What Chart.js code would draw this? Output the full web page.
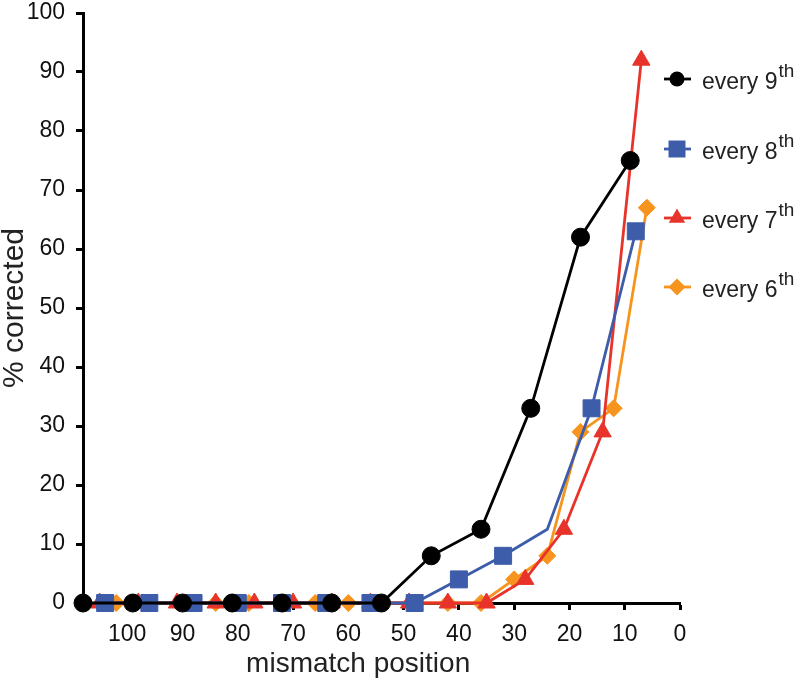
<!DOCTYPE html>
<html>
<head>
<meta charset="utf-8">
<script src="https://cdn.jsdelivr.net/npm/chart.js@4/dist/chart.umd.min.js"></script>
<style>
  html, body { margin: 0; padding: 0; background: #fff; }
  #main { display: block; }
</style>
</head>
<body>
<canvas id="main" width="800" height="680"></canvas>
<script>
// mismatch positions and % corrected, one pair of arrays per series
const pos9 = [108, 99, 90, 81, 72, 63, 54, 45, 36, 27, 18, 9];
const val9 = [0, 0, 0, 0, 0, 0, 0, 8, 12.5, 33, 62, 75];

const pos8 = [104, 96, 88, 80, 72, 64, 56, 48, 40, 32, 24, 16, 8];
const val8 = [0, 0, 0, 0, 0, 0, 0, 0, 4, 8, 12.5, 33, 63];

const pos7 = [105, 98, 91, 84, 77, 70, 63, 56, 49, 42, 35, 28, 21, 14, 7];
const val7 = [0, 0, 0, 0, 0, 0, 0, 0, 0, 0, 0, 4, 12.5, 29, 92];

const pos6 = [102, 96, 90, 84, 78, 72, 66, 60, 54, 48, 42, 36, 30, 24, 18, 12, 6];
const val6 = [0, 0, 0, 0, 0, 0, 0, 0, 0, 0, 0, 0, 4, 8, 29, 33, 67];

const seriesNames = ['every 9', 'every 8', 'every 7', 'every 6'];
const xTicks = [0, 10, 20, 30, 40, 50, 60, 70, 80, 90, 100];

const FONT = "'Liberation Sans', Arial, Helvetica, sans-serif";

const toPoints = (xs, ys) => xs.map((x, i) => ({ x: x, y: ys[i] }));

const styles = [
  { color: '#000000', shape: 'circle', r: 9, lr: 7.5 },
  { color: '#3d5daa', shape: 'rect', r: 12, lr: 12 },
  { color: '#e8332a', shape: 'triangle', r: 10, lr: 9.5 },
  { color: '#f7941d', shape: 'rectRot', r: 8.5, lr: 8.5 },
];

const makeSet = (i, xs, ys, radii) => ({
  label: seriesNames[i] + 'th',
  data: toPoints(xs, ys),
  borderColor: styles[i].color,
  backgroundColor: styles[i].color,
  borderWidth: 2.8,
  pointStyle: styles[i].shape,
  pointRadius: radii || styles[i].r,
  pointHoverRadius: radii || styles[i].r,
  pointBackgroundColor: styles[i].color,
  pointBorderColor: styles[i].color,
  pointBorderWidth: 1,
  tension: 0,
  clip: false,
});

// blue series has an unmarked bend at position 24
const radii8 = pos8.map(p => (p === 24 ? 0 : styles[1].r));

const drawShape = (ctx, shape, x, y, r) => {
  ctx.beginPath();
  if (shape === 'circle') {
    ctx.arc(x, y, r, 0, Math.PI * 2);
  } else if (shape === 'rect') {
    const s = r * Math.SQRT1_2;
    ctx.rect(x - s, y - s, 2 * s, 2 * s);
  } else if (shape === 'triangle') {
    ctx.moveTo(x, y - r);
    ctx.lineTo(x + r * Math.sin(Math.PI * 2 / 3), y - r * Math.cos(Math.PI * 2 / 3));
    ctx.lineTo(x + r * Math.sin(Math.PI * 4 / 3), y - r * Math.cos(Math.PI * 4 / 3));
    ctx.closePath();
  } else {
    ctx.moveTo(x - r, y);
    ctx.lineTo(x, y - r);
    ctx.lineTo(x + r, y);
    ctx.lineTo(x, y + r);
    ctx.closePath();
  }
  ctx.fill();
};

// legend with superscript "th", drawn on the right
const sideLegend = {
  id: 'sideLegend',
  afterDraw(chart) {
    const ctx = chart.ctx;
    const rowY = [79, 149, 218, 287];
    ctx.save();
    seriesNames.forEach((name, i) => {
      const y = rowY[i];
      const st = styles[i];
      ctx.strokeStyle = st.color;
      ctx.fillStyle = st.color;
      ctx.lineWidth = 2.8;
      ctx.beginPath();
      ctx.moveTo(664, y);
      ctx.lineTo(691, y);
      ctx.stroke();
      drawShape(ctx, st.shape, 677, y, st.lr);

      ctx.fillStyle = '#222';
      ctx.textBaseline = 'alphabetic';
      ctx.textAlign = 'left';
      ctx.font = '23px ' + FONT;
      ctx.fillText(name, 702, y + 10);
      const w = ctx.measureText(name).width;
      ctx.font = '19px ' + FONT;
      ctx.fillText('th', 702 + w + 1, y - 2);
    });
    ctx.restore();
  }
};

const options = {
  responsive: false,
  animation: false,
  layout: { padding: { left: 0, right: 120, top: 8, bottom: 0 } },
  plugins: {
    legend: { display: false },
    tooltip: { enabled: false },
  },
  scales: {
    x: {
      type: 'linear',
      reverse: true,
      min: 0,
      max: 108,
      afterBuildTicks: s => { s.ticks = xTicks.map(v => ({ value: v })); },
      afterFit: s => { s.height = 77; s.paddingLeft = 0; s.paddingRight = 0; },
      border: { display: true, color: '#000', width: 3 },
      grid: { drawOnChartArea: false, drawTicks: true, tickLength: 7, tickWidth: 3, tickColor: '#000' },
      ticks: {
        color: '#111',
        padding: 11,
        maxRotation: 0,
        autoSkip: false,
        font: { family: FONT, size: 23 },
        callback: v => String(v),
      },
      title: {
        display: true,
        text: 'mismatch position      ',
        color: '#222',
        font: { family: FONT, size: 28, lineHeight: 1.1 },
        padding: { top: 0, bottom: 0 },
      },
    },
    y: {
      min: 0,
      max: 100,
      afterFit: s => { s.width = 83; s.paddingTop = 0; s.paddingBottom = 0; },
      border: { display: true, color: '#000', width: 3 },
      grid: { drawOnChartArea: false, drawTicks: true, tickLength: 7, tickWidth: 3, tickColor: '#000' },
      ticks: {
        stepSize: 10,
        color: '#111',
        padding: 11,
        font: { family: FONT, size: 23 },
      },
      title: {
        display: true,
        text: '% corrected',
        color: '#222',
        font: { family: FONT, size: 30, lineHeight: 1.0 },
        padding: { top: 0, bottom: 0 },
      },
    },
  },
};

const chart = new Chart(document.getElementById('main'), {
  type: 'line',
  data: {
    datasets: [
      makeSet(0, pos9, val9),
      makeSet(1, pos8, val8, radii8),
      makeSet(2, pos7, val7),
      makeSet(3, pos6, val6),
    ],
  },
  options: options,
  plugins: [sideLegend],
});
</script>
</body>
</html>
